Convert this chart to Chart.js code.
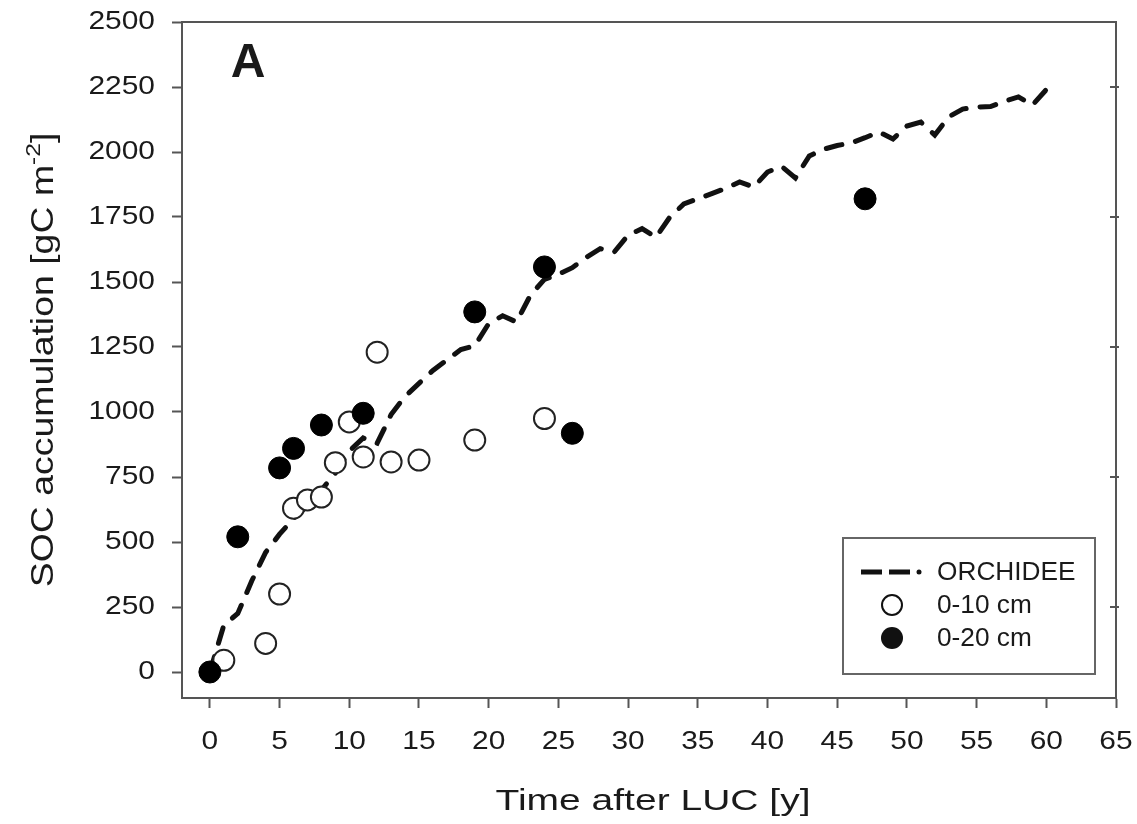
<!DOCTYPE html>
<html>
<head>
<meta charset="utf-8">
<script src="https://cdn.jsdelivr.net/npm/chart.js@4"></script>
<style>
    body { margin: 0; background: #fff; }
    canvas { display: block; }
</style>
</head>
<body>
<canvas id="socChart" width="1137" height="824"></canvas>
<script>
// ORCHIDEE model run, one value per year after LUC
const modelYears = [
    0, 1, 2, 3, 4, 5, 6, 7, 8, 9, 10, 11, 12, 13, 14, 15, 16, 17, 18, 19, 20,
    21, 22, 23, 24, 25, 26, 27, 28, 29, 30, 31, 32, 33, 34, 35, 36, 37, 38, 39, 40,
    41, 42, 43, 44, 45, 46, 47, 48, 49, 50, 51, 52, 53, 54, 55, 56, 57, 58, 59, 60
];
const modelSoc = [
    0, 180, 225, 350, 460, 530, 590, 640, 700, 765, 850, 900, 880, 990, 1060, 1110, 1160, 1200, 1240, 1255, 1340,
    1370, 1346, 1450, 1510, 1530, 1555, 1595, 1628, 1615, 1680, 1705, 1672, 1750, 1800, 1820, 1840, 1860, 1885, 1865, 1923,
    1945, 1900, 1985, 2010, 2025, 2035, 2055, 2077, 2050, 2100, 2115, 2065, 2135, 2165, 2173, 2175, 2195, 2212, 2180, 2240
];

// observations 0-10 cm
const shallowYears = [1, 4, 5, 6, 7, 8, 9, 10, 11, 12, 13, 15, 19, 24];
const shallowSoc = [45, 110, 300, 630, 662, 673, 805, 962, 827, 1230, 808, 815, 892, 975];

// observations 0-20 cm
const deepYears = [0, 2, 5, 6, 8, 11, 19, 24, 26, 47];
const deepSoc = [0, 520, 785, 860, 950, 995, 1385, 1558, 918, 1820];

const xTicks = [0, 5, 10, 15, 20, 25, 30, 35, 40, 45, 50, 55, 60, 65];
const yTicks = [0, 250, 500, 750, 1000, 1250, 1500, 1750, 2000, 2250, 2500];
const yTicksRight = [250, 750, 1250, 1750, 2250];

const FONT = '"Liberation Sans", Arial, sans-serif';
const INK = '#1a1a1a';
const FRAME = '#555';

function toPoints(xs, ys) {
    return xs.map((x, i) => ({ x: x, y: ys[i] }));
}

// the scanned figure uses wide type, so text gets a horizontal stretch
function stretchText(ctx, text, x, y, size, sx, align, baseline, weight) {
    ctx.save();
    ctx.translate(x, y);
    ctx.scale(sx, 1);
    ctx.font = (weight || '') + ' ' + size + 'px ' + FONT;
    ctx.textAlign = align;
    ctx.textBaseline = baseline;
    ctx.fillStyle = INK;
    ctx.fillText(text, 0, 0);
    ctx.restore();
}

const decorPlugin = {
    id: 'decor',
    afterDraw(chart) {
        const ctx = chart.ctx;
        const area = chart.chartArea;
        const xs = chart.scales.x;
        const ys = chart.scales.y;

        // frame + small right-hand ticks
        ctx.save();
        ctx.strokeStyle = FRAME;
        ctx.lineWidth = 2;
        ctx.strokeRect(area.left, area.top, area.right - area.left, area.bottom - area.top);
        yTicksRight.forEach(v => {
            const py = ys.getPixelForValue(v);
            ctx.beginPath();
            ctx.moveTo(area.right - 6, py);
            ctx.lineTo(area.right + 3, py);
            ctx.stroke();
        });
        ctx.restore();

        // tick labels
        yTicks.forEach(v => {
            stretchText(ctx, String(v), area.left - 27, ys.getPixelForValue(v), 26, 1.15, 'right', 'middle');
        });
        xTicks.forEach(v => {
            stretchText(ctx, String(v), xs.getPixelForValue(v), 742, 26, 1.15, 'center', 'middle');
        });

        // axis titles
        stretchText(ctx, 'Time after LUC [y]', (area.left + area.right) / 2 + 4, 810, 30, 1.3, 'center', 'alphabetic');

        ctx.save();
        ctx.translate(53, 360);
        ctx.rotate(-Math.PI / 2);
        ctx.scale(1.17, 1);
        ctx.fillStyle = INK;
        ctx.textBaseline = 'alphabetic';
        ctx.textAlign = 'left';
        const main = 'SOC accumulation [gC m';
        ctx.font = '32px ' + FONT;
        const w1 = ctx.measureText(main).width;
        const w3 = ctx.measureText(']').width;
        ctx.font = '21px ' + FONT;
        const w2 = ctx.measureText('-2').width;
        const start = -(w1 + w2 + w3) / 2;
        ctx.fillText('-2', start + w1, -13);
        ctx.font = '32px ' + FONT;
        ctx.fillText(main, start, 0);
        ctx.fillText(']', start + w1 + w2, 0);
        ctx.restore();

        // panel letter
        stretchText(ctx, 'A', xs.getPixelForValue(1.5), ys.getPixelForValue(2290), 48, 1.0, 'left', 'alphabetic', 'bold');

        // legend box
        const lx = 843, ly = 538, lw = 252, lh = 136;
        ctx.save();
        ctx.strokeStyle = '#666';
        ctx.lineWidth = 2;
        ctx.strokeRect(lx, ly, lw, lh);
        ctx.strokeStyle = '#111';
        ctx.lineWidth = 5;
        ctx.beginPath();
        ctx.moveTo(861, 572); ctx.lineTo(882, 572);
        ctx.moveTo(889, 572); ctx.lineTo(910, 572);
        ctx.stroke();
        ctx.fillStyle = '#111';
        ctx.beginPath();
        ctx.arc(919, 572, 2.5, 0, Math.PI * 2);
        ctx.fill();
        ctx.lineWidth = 2;
        ctx.fillStyle = '#fff';
        ctx.beginPath();
        ctx.arc(892, 605, 10, 0, Math.PI * 2);
        ctx.fill();
        ctx.stroke();
        ctx.fillStyle = '#111';
        ctx.beginPath();
        ctx.arc(892, 638, 11, 0, Math.PI * 2);
        ctx.fill();
        ctx.restore();
        stretchText(ctx, 'ORCHIDEE', 937, 573, 25, 1.05, 'left', 'middle');
        stretchText(ctx, '0-10 cm', 937, 606, 25, 1.05, 'left', 'middle');
        stretchText(ctx, '0-20 cm', 937, 639, 25, 1.05, 'left', 'middle');
    }
};

const axisCommon = {
    border: { display: true, color: FRAME, width: 2 },
    grid: { drawOnChartArea: false, drawTicks: true, tickLength: 10, tickColor: FRAME, tickWidth: 2 },
    ticks: { display: false }
};

new Chart(document.getElementById('socChart').getContext('2d'), {
    data: {
        datasets: [
            {
                type: 'line',
                label: 'ORCHIDEE',
                data: toPoints(modelYears, modelSoc),
                borderColor: '#111',
                borderWidth: 5,
                borderDash: [16, 14],
                borderCapStyle: 'round',
                pointRadius: 0,
                tension: 0,
                fill: false,
                order: 3
            },
            {
                type: 'scatter',
                label: '0-10 cm',
                data: toPoints(shallowYears, shallowSoc),
                pointRadius: 10.5,
                pointBorderWidth: 2,
                backgroundColor: '#fff',
                borderColor: '#222',
                order: 2
            },
            {
                type: 'scatter',
                label: '0-20 cm',
                data: toPoints(deepYears, deepSoc),
                pointRadius: 11,
                pointBorderWidth: 1,
                backgroundColor: '#000',
                borderColor: '#000',
                order: 1
            }
        ]
    },
    options: {
        responsive: false,
        animation: false,
        devicePixelRatio: 1,
        layout: { padding: { left: 172, right: 21, top: 22, bottom: 116 } },
        plugins: { legend: { display: false }, tooltip: { enabled: false } },
        scales: {
            x: {
                ...axisCommon,
                type: 'linear',
                min: -2,
                max: 65,
                afterBuildTicks: s => { s.ticks = xTicks.map(v => ({ value: v })); }
            },
            y: {
                ...axisCommon,
                type: 'linear',
                min: -100,
                max: 2500,
                afterBuildTicks: s => { s.ticks = yTicks.map(v => ({ value: v })); }
            }
        }
    },
    plugins: [decorPlugin]
});
</script>
</body>
</html>
